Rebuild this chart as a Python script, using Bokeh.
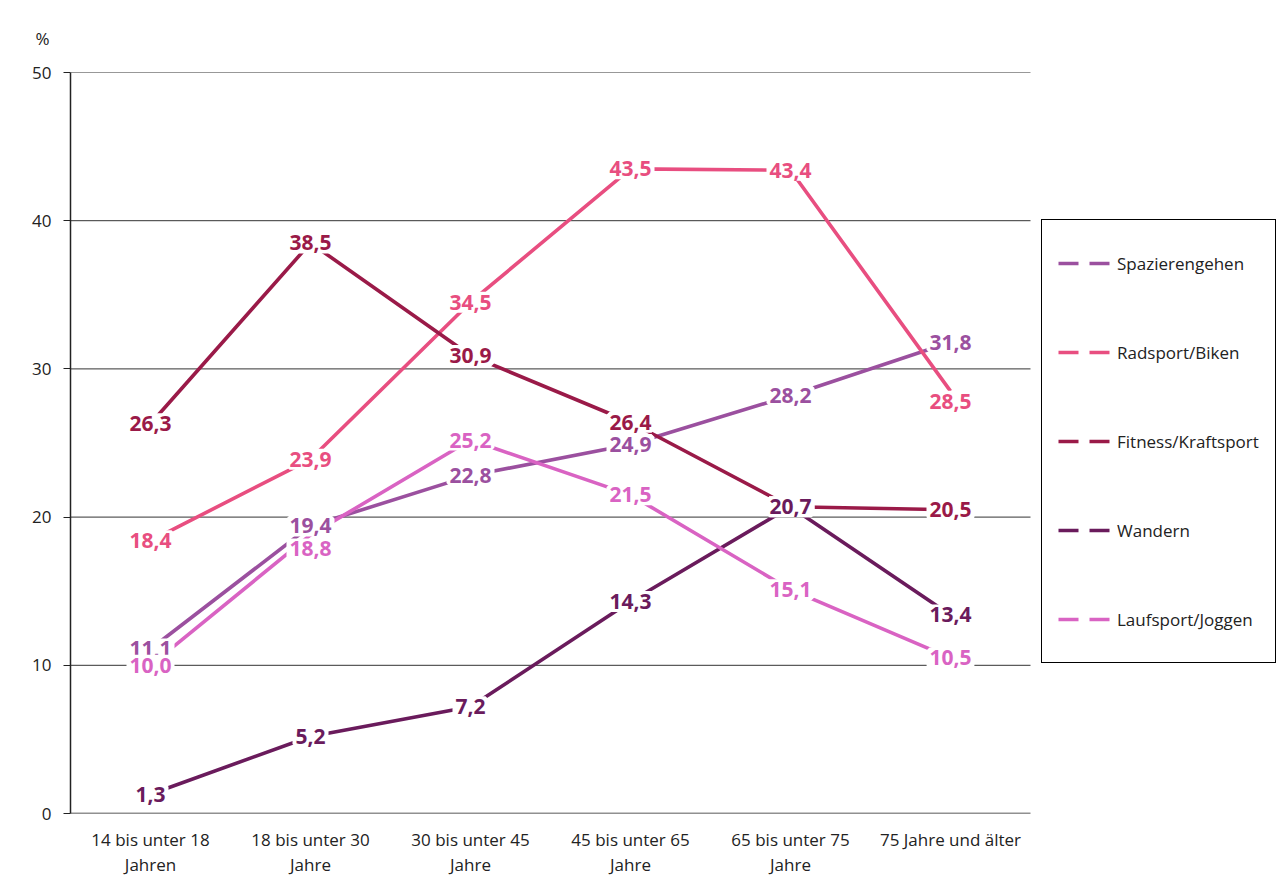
from bokeh.plotting import figure
from bokeh.models import (ColumnDataSource, LabelSet, Legend, LegendItem, Range1d,
                          FixedTicker, Title)
from bokeh.core.properties import value
from bokeh.embed import file_html
from bokeh.resources import INLINE

categories = ["14 bis unter 18\nJahren", "18 bis unter 30\nJahre", "30 bis unter 45\nJahre",
              "45 bis unter 65\nJahre", "65 bis unter 75\nJahre", "75 Jahre und älter"]
series_names = ["Spazierengehen", "Radsport/Biken", "Fitness/Kraftsport", "Wandern", "Laufsport/Joggen"]
spazierengehen = [11.1, 19.4, 22.8, 24.9, 28.2, 31.8]
radsport = [18.4, 23.9, 34.5, 43.5, 43.4, 28.5]
fitness = [26.3, 38.5, 30.9, 26.4, 20.7, 20.5]
wandern = [1.3, 5.2, 7.2, 14.3, 20.7, 13.4]
laufsport = [10.0, 18.8, 25.2, 21.5, 15.1, 10.5]
y_ticks = [0, 10, 20, 30, 40, 50]

series_values = [spazierengehen, radsport, fitness, wandern, laufsport]
colors = ["#9B509F", "#E84E80", "#9A1A48", "#6A1B5C", "#D963C3"]
# per-label vertical pixel nudges (style only)
label_nudge = [
    [0, 0, 0, 0, 0, 0],
    [0, 0, 0, 0, 0, -10],
    [0, 0, 0, 0, 0, 0],
    [0, 0, 0, 0, 0, 0],
    [0, -14, 0, 0, 0, 0],
]

FONT = "Open Sans"
TXT = "#222222"

n = len(categories)
x_lo, x_hi = -0.5, n - 0.5
px_per_cat = 160.0
legend_room = 247 / px_per_cat  # extra room on the right (in category units) for the legend

p = figure(width=1277, height=884, output_backend="svg", toolbar_location=None,
           x_range=Range1d(x_lo, x_hi + legend_room), y_range=Range1d(0, 50),
           min_border_left=70, min_border_top=72, min_border_bottom=71, min_border_right=0)
p.outline_line_color = None
p.background_fill_color = "white"
p.border_fill_color = "white"

xs = list(range(n))

# axes
p.xaxis.ticker = FixedTicker(ticks=xs)
p.xaxis.major_label_overrides = {i: c for i, c in enumerate(categories)}
p.xaxis.major_tick_line_color = None
p.xaxis.minor_tick_line_color = None
p.xaxis.axis_line_color = None
p.xaxis.major_label_text_font = FONT
p.xaxis.major_label_text_font_size = "17px"
p.xaxis.major_label_text_color = TXT
p.xaxis.major_label_standoff = 8
p.xaxis.major_label_text_line_height = 1.12

p.yaxis.ticker = FixedTicker(ticks=y_ticks)
p.yaxis.major_tick_out = 7
p.yaxis.major_tick_in = 0
p.yaxis.minor_tick_line_color = None
p.yaxis.axis_line_color = "#222222"
p.yaxis.axis_line_width = 1.5
p.yaxis.major_tick_line_color = "#222222"
p.yaxis.major_label_text_font = FONT
p.yaxis.major_label_text_font_size = "17px"
p.yaxis.major_label_text_color = TXT
p.yaxis.major_label_standoff = 12

p.xgrid.grid_line_color = None
p.ygrid.grid_line_color = None

# horizontal grid lines and x-axis baseline, limited to the category area
p.segment(x0=[x_lo] * len(y_ticks), x1=[x_hi] * len(y_ticks), y0=y_ticks, y1=y_ticks,
          line_color=["#222222"] + ["#333333"] * (len(y_ticks) - 1),
          line_width=[1.5] + [1] * (len(y_ticks) - 1))

p.add_layout(Title(text="%", align="left", offset=-35, standoff=46,
                   text_font=FONT, text_font_size="17px", text_font_style="normal",
                   text_color=TXT), "above")

legend_items = []
for name, vals, col in zip(series_names, series_values, colors):
    p.line(xs, vals, line_color=col, line_width=3.6)
    # legend-only renderer, kept outside the visible y range
    dummy = p.line(x=[0, 1], y=[-10, -10], line_color=col, line_width=3.6, line_dash="20 11")
    legend_items.append(LegendItem(label=name, renderers=[dummy]))

for name, vals, col, nudge in zip(series_names, series_values, colors, label_nudge):
    src = ColumnDataSource(dict(x=xs, y=vals,
                                t=[f"{v:.1f}".replace(".", ",") for v in vals],
                                dy=nudge))
    ls = LabelSet(x="x", y="y", text="t", source=src, y_offset="dy",
                  text_font=value(FONT), text_font_style="bold", text_font_size="21px",
                  text_color=col, text_align="center", text_baseline="middle",
                  background_fill_color="white",
                  border_line_color="white", border_line_width=6)
    p.add_layout(ls)

legend = Legend(items=legend_items, location=(971, 150),
                glyph_width=55, glyph_height=54, label_height=54,
                spacing=35, padding=16, label_standoff=4,
                label_text_font=FONT, label_text_font_size="17px", label_text_color=TXT,
                border_line_color="#000000", border_line_alpha=1.0, border_line_width=1.2,
                background_fill_color="white", background_fill_alpha=1.0)
p.add_layout(legend, "center")

open("out.html", "w").write(file_html(p, INLINE))
